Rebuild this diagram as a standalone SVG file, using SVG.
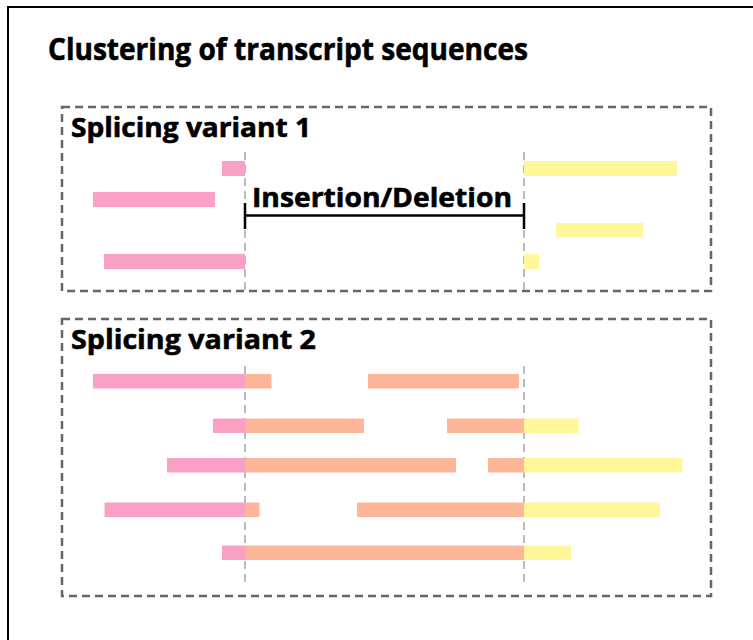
<svg xmlns="http://www.w3.org/2000/svg" width="753" height="640" viewBox="0 0 753 640">
  <style>
    .lbl { font-family: "Open Sans", "Liberation Sans", sans-serif; font-weight: bold; fill: #000; stroke: #000; stroke-width: 0.6; }
    .box { fill: none; stroke: #666; stroke-width: 2.5; stroke-dasharray: 8 5; }
    .guide { stroke: #bbb; stroke-width: 2; stroke-dasharray: 8 5; }
    .pink { fill: #F9A0C4; }
    .salmon { fill: #FDB798; }
    .yellow { fill: #FFF799; }
    .bracket { stroke: #000; stroke-width: 2.5; fill: none; }
  </style>

  <rect x="0" y="0" width="753" height="640" fill="#fff"/>
  <!-- outer frame -->
  <path d="M8 645 V7 H760" fill="none" stroke="#000" stroke-width="2"/>

  <text class="lbl" x="48" y="60" font-size="30.5" textLength="480" lengthAdjust="spacingAndGlyphs">Clustering of transcript sequences</text>

  <!-- variant 1 -->
  <g id="variant1">
    <rect class="box" x="62" y="107" width="649" height="184"/>
    <text class="lbl" x="71" y="137" font-size="26.5" textLength="240" lengthAdjust="spacingAndGlyphs">Splicing variant 1</text>
    <line class="guide" x1="245" y1="152" x2="245" y2="290"/>
    <line class="guide" x1="524" y1="152" x2="524" y2="290"/>
    <rect class="pink" x="222" y="161" width="23" height="15"/>
    <rect class="pink" x="93" y="192" width="122" height="15"/>
    <rect class="pink" x="104" y="254" width="141" height="15"/>
    <rect class="yellow" x="524" y="161" width="153" height="15"/>
    <rect class="yellow" x="556" y="223" width="87" height="14"/>
    <rect class="yellow" x="524" y="254" width="15" height="15"/>
  </g>

  <!-- insertion / deletion span -->
  <g id="indel">
    <path class="bracket" d="M245 203 V229 M245 215.5 H524 M524 203 V229"/>
    <text class="lbl" x="252" y="207" font-size="27.5" textLength="260" lengthAdjust="spacingAndGlyphs">Insertion/Deletion</text>
  </g>

  <!-- variant 2 -->
  <g id="variant2">
    <rect class="box" x="62" y="319" width="649" height="277"/>
    <text class="lbl" x="71" y="348.5" font-size="26.5" textLength="245" lengthAdjust="spacingAndGlyphs">Splicing variant 2</text>
    <line class="guide" x1="245" y1="366" x2="245" y2="582"/>
    <line class="guide" x1="524" y1="366" x2="524" y2="582"/>

    <rect class="pink" x="93" y="374" width="152" height="14.5"/>
    <rect class="salmon" x="245" y="374" width="26.5" height="14.5"/>
    <rect class="salmon" x="368" y="374" width="151" height="14.5"/>

    <rect class="pink" x="213" y="418.5" width="32" height="14.5"/>
    <rect class="salmon" x="245" y="418.5" width="119" height="14.5"/>
    <rect class="salmon" x="447" y="418.5" width="77" height="14.5"/>
    <rect class="yellow" x="524" y="418.5" width="54.5" height="14.5"/>

    <rect class="pink" x="167" y="458" width="78" height="14.5"/>
    <rect class="salmon" x="245" y="458" width="211" height="14.5"/>
    <rect class="salmon" x="488" y="458" width="36" height="14.5"/>
    <rect class="yellow" x="524" y="458" width="158.5" height="14.5"/>

    <rect class="pink" x="104.5" y="502.5" width="140.5" height="14.5"/>
    <rect class="salmon" x="245" y="502.5" width="14.5" height="14.5"/>
    <rect class="salmon" x="357" y="502.5" width="167" height="14.5"/>
    <rect class="yellow" x="524" y="502.5" width="136" height="14.5"/>

    <rect class="pink" x="222" y="545.5" width="23" height="14.5"/>
    <rect class="salmon" x="245" y="545.5" width="279" height="14.5"/>
    <rect class="yellow" x="524" y="545.5" width="47" height="14.5"/>
  </g>
</svg>
